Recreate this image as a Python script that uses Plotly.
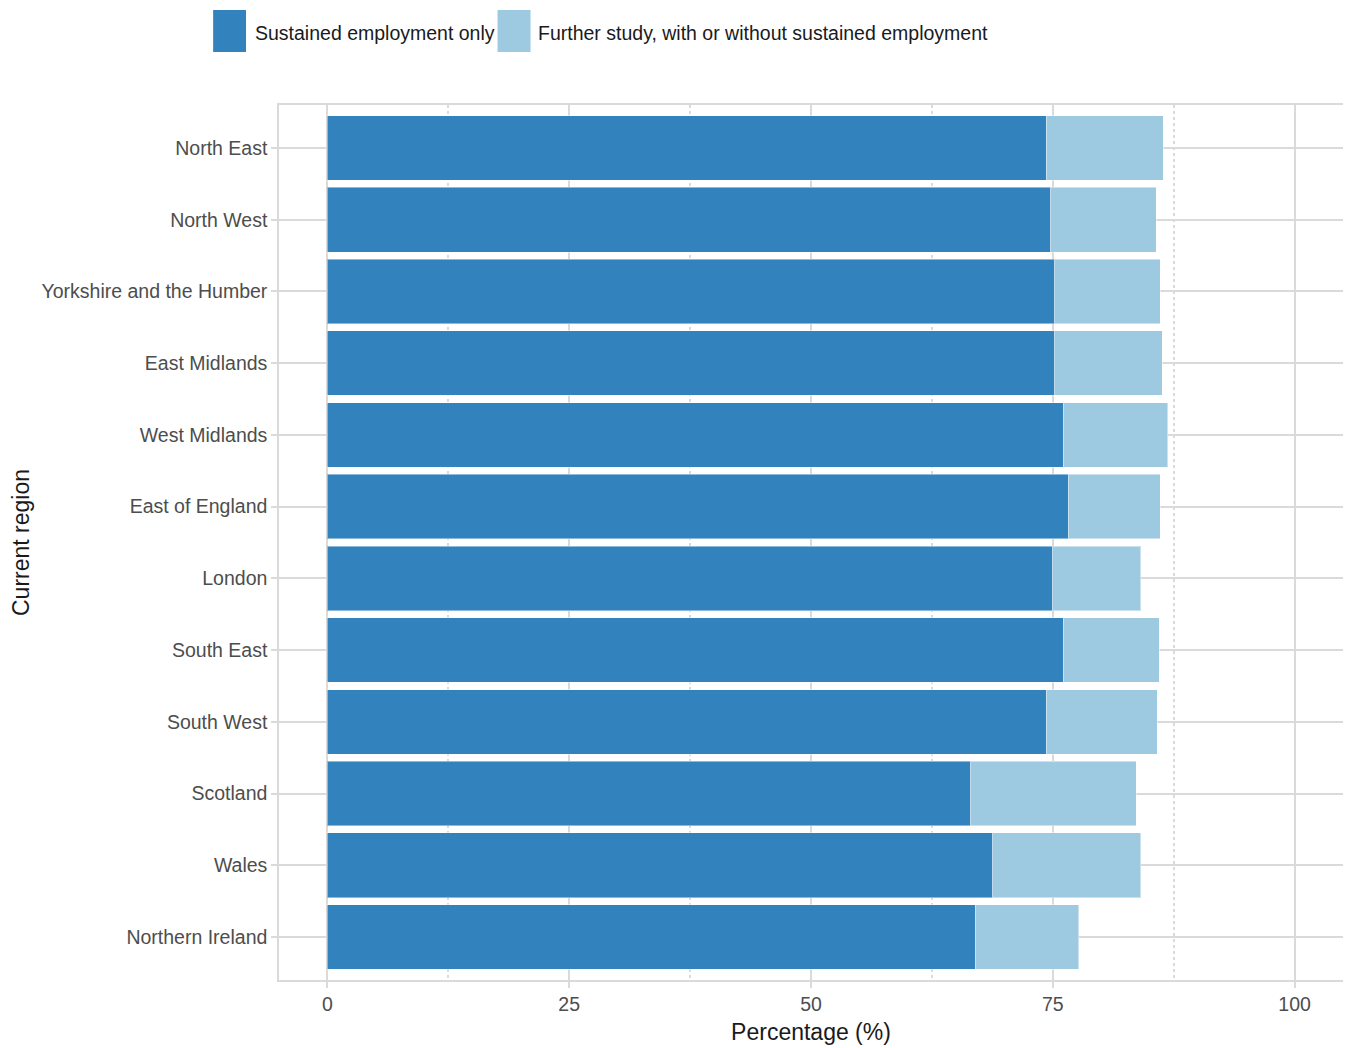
import plotly.graph_objects as go

regions = ["North East", "North West", "Yorkshire and the Humber", "East Midlands",
           "West Midlands", "East of England", "London", "South East", "South West",
           "Scotland", "Wales", "Northern Ireland"]
sustained_employment = [74.3, 74.8, 75.2, 75.2, 76.1, 76.6, 75.0, 76.1, 74.3, 66.5, 68.8, 67.0]
further_study = [12.1, 10.9, 10.9, 11.1, 10.8, 9.5, 9.1, 9.9, 11.5, 17.1, 15.3, 10.7]

series_names = ["Sustained employment only", "Further study, with or without sustained employment"]
series_colors = ["#3182BD", "#9ECAE1"]

FONT = "Liberation Sans, Arial, sans-serif"
GRID = "#DADADA"

fig = go.Figure()
for name, vals, col in zip(series_names, [sustained_employment, further_study], series_colors):
    fig.add_trace(go.Bar(
        y=regions, x=vals, name=name, orientation="h",
        marker=dict(color=col, line=dict(color="rgba(255,255,255,0.45)", width=1)),
        showlegend=False,
    ))

# manual legend (large square keys like the original)
legend_items = [(-0.0619, -0.031, -0.0244), (0.2054, 0.2364, 0.242)]
for (x0, x1, xt), name, col in zip(legend_items, series_names, series_colors):
    fig.add_shape(type="rect", xref="paper", yref="paper", x0=x0, x1=x1, y0=1.0606, y1=1.1086,
                  fillcolor=col, line=dict(width=0))
    fig.add_annotation(xref="paper", yref="paper", x=xt, y=1.0825, text=name, showarrow=False,
                       xanchor="left", yanchor="middle",
                       font=dict(family=FONT, size=19.5, color="#1a1a1a"))

fig.update_layout(
    barmode="stack",
    bargap=0.1,
    width=1343, height=1040,
    margin=dict(l=271, r=6, t=97, b=68),
    plot_bgcolor="white", paper_bgcolor="white",
    font=dict(family=FONT, size=19.5, color="#4D4D4D"),
)
fig.update_xaxes(
    range=[-5, 105], tick0=0, dtick=25,
    showgrid=True, gridcolor=GRID, gridwidth=1.5,
    minor=dict(tick0=0, dtick=12.5, showgrid=True, gridcolor=GRID, griddash="dot", gridwidth=1.5),
    zeroline=False,
    showline=True, mirror=True, linecolor=GRID, linewidth=1.5,
    ticks="outside", ticklen=6, tickcolor=GRID, tickwidth=1.5,
    tickfont=dict(family=FONT, size=19.5, color="#4D4D4D"),
    title=dict(text="Percentage (%)", font=dict(family=FONT, size=23, color="#1a1a1a"), standoff=10),
)
fig.update_yaxes(
    categoryorder="array", categoryarray=regions, autorange=False, range=[11.6, -0.6],
    showgrid=True, gridcolor=GRID, gridwidth=1.5,
    showline=True, mirror=True, linecolor=GRID, linewidth=1.5,
    ticks="outside", ticklen=6, tickcolor=GRID, tickwidth=1.5,
    tickfont=dict(family=FONT, size=19.5, color="#4D4D4D"),
    title=dict(text="Current region", font=dict(family=FONT, size=23, color="#1a1a1a"), standoff=10),
)

fig.write_html("out.html")
